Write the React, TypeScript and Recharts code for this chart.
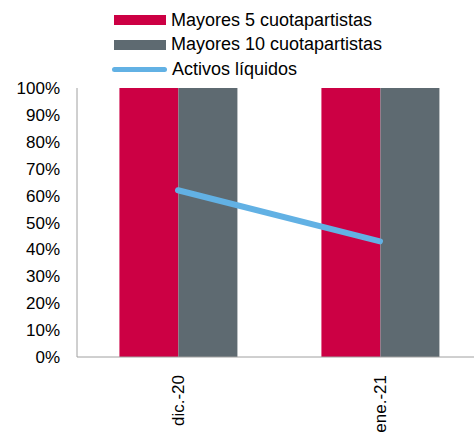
import React from 'react';
import { ComposedChart, Bar, Line, XAxis, YAxis } from 'recharts';

const categories = ['dic.-20', 'ene.-21'];
const top5 = [1, 1];
const top10 = [1, 1];
const liquid = [0.62, 0.43];
const yTicks = [0, 0.1, 0.2, 0.3, 0.4, 0.5, 0.6, 0.7, 0.8, 0.9, 1];

const seriesNames = ['Mayores 5 cuotapartistas', 'Mayores 10 cuotapartistas', 'Activos líquidos'];
const RED = '#CC0044';
const GREY = '#5E6A71';
const BLUE = '#62B1E4';

const data = categories.map((c, i) => ({ cat: c, top5: top5[i], top10: top10[i], liquid: liquid[i] }));

const font = 'Arial, "Liberation Sans", sans-serif';

function XTick(props: any) {
  const { x, y, payload } = props;
  return (
    <text
      transform={`rotate(-90, ${x}, ${y + 10})`}
      x={x}
      y={y + 10}
      dy="0.36em"
      textAnchor="end"
      fontSize={17}
      fontFamily={font}
      fill="#000"
    >
      {payload.value}
    </text>
  );
}

export default function App() {
  const legendItems = [
    { name: seriesNames[0], color: RED, kind: 'bar' },
    { name: seriesNames[1], color: GREY, kind: 'bar' },
    { name: seriesNames[2], color: BLUE, kind: 'line' }
  ];
  return (
    <div style={{ position: 'absolute', left: 0, top: 0, width: 474, height: 432, overflow: 'hidden', background: '#fff' }}>
      <div style={{ position: 'absolute', left: 112, top: 8, fontFamily: font, fontSize: 18, color: '#000' }}>
        {legendItems.map((it) => (
          <div key={it.name} style={{ display: 'flex', alignItems: 'center', height: 24.5 }}>
            {it.kind === 'bar' ? (
              <span style={{ display: 'inline-block', width: 52, height: 10, marginLeft: 2, background: it.color }} />
            ) : (
              <span style={{ display: 'inline-block', width: 55, height: 5, borderRadius: 3, background: it.color }} />
            )}
            <span style={{ marginLeft: 5 }}>{it.name}</span>
          </div>
        ))}
      </div>
      <ComposedChart
        width={481}
        height={432}
        data={data}
        margin={{ top: 88, right: 0, left: 0, bottom: 0 }}
        barCategoryGap="21%"
        barGap={0}
      >
        <XAxis
          dataKey="cat"
          height={75}
          tickLine={false}
          stroke="#A0A0A0"
          tick={<XTick />}
          interval={0}
        />
        <YAxis
          width={77}
          domain={[0, 1]}
          ticks={yTicks}
          tickLine={false}
          tickSize={0}
          tickMargin={17}
          stroke="#A0A0A0"
          tick={{ fill: '#000', fontSize: 17, fontFamily: font }}
          tickFormatter={(v) => `${Math.round(v * 100)}%`}
        />
        <Bar dataKey="top5" name={seriesNames[0]} fill={RED} isAnimationActive={false} />
        <Bar dataKey="top10" name={seriesNames[1]} fill={GREY} isAnimationActive={false} />
        <Line
          dataKey="liquid"
          name={seriesNames[2]}
          stroke={BLUE}
          strokeWidth={6}
          strokeLinecap="round"
          dot={false}
          isAnimationActive={false}
        />
      </ComposedChart>
    </div>
  );
}
